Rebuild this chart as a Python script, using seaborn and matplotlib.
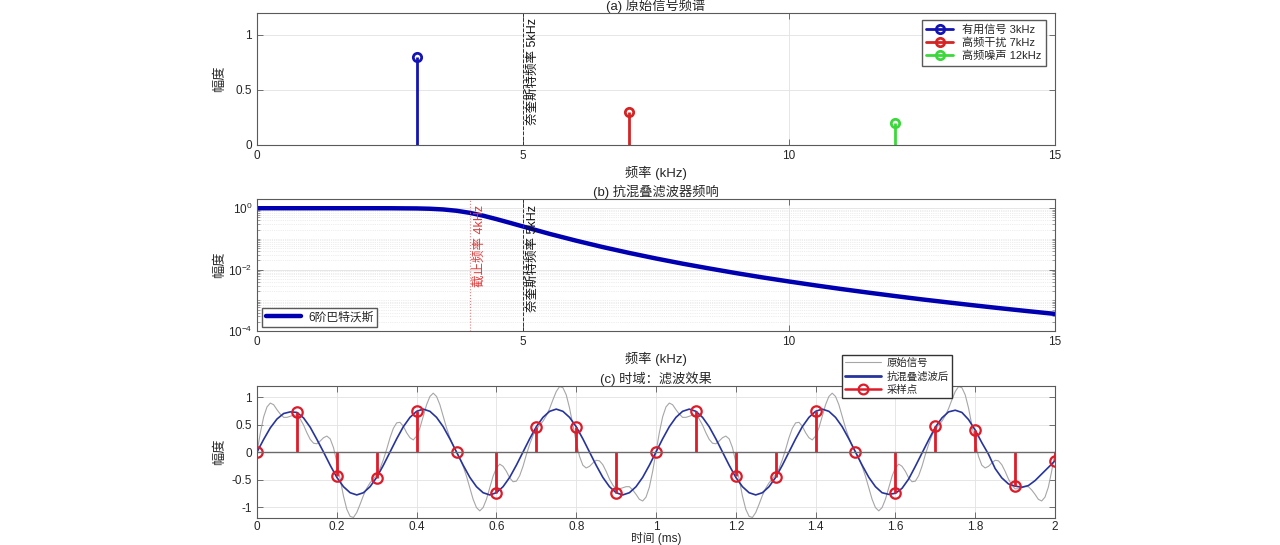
import numpy as np
import matplotlib
matplotlib.use('Agg')
import matplotlib.pyplot as plt
import seaborn as sns
from matplotlib.lines import Line2D
from matplotlib.legend_handler import HandlerLine2D
from matplotlib.ticker import FuncFormatter, LogLocator, NullFormatter

# (a) spectrum of the original signal
spec_freq = [3, 7, 12]
spec_amp = [0.8, 0.3, 0.2]
spec_labels = ['有用信号 3kHz', '高频干扰 7kHz', '高频噪声 12kHz']
spec_colors = ['#1414b4', '#d42424', '#3ad83a']

# (b) anti-aliasing filter response (6th order Butterworth)
filt_freq = [0, 0.5, 1, 1.5, 2, 2.5, 3, 3.25, 3.5, 3.75, 4, 4.25, 4.5, 4.75, 5,
             5.5, 6, 6.5, 7, 7.5, 8, 8.5, 9, 9.5, 10, 10.5, 11, 11.5, 12,
             12.5, 13, 13.5, 14, 14.5, 15]
filt_gain = [1.0, 1.0, 1.0, 1.0, 0.9999, 0.9982, 0.9845, 0.961, 0.912, 0.827,
             0.707, 0.571, 0.442, 0.336, 0.254, 0.146, 0.0875, 0.0542, 0.0348,
             0.0230, 0.0156, 0.0109, 0.00771, 0.00557, 0.00410, 0.00306,
             0.00231, 0.00177, 0.00137, 0.00107, 0.000849, 0.000677, 0.000544,
             0.000441, 0.000360]

# (c) time domain
# original signal, 241 points over 0..2 ms
t_raw = np.linspace(0, 2, 241)
raw_sig = [0.00, 0.35, 0.64, 0.82, 0.89, 0.86, 0.77, 0.69, 0.63, 0.63,
           0.65, 0.67, 0.67, 0.60, 0.49, 0.35, 0.23, 0.16, 0.15, 0.20,
           0.26, 0.29, 0.24, 0.08, -0.18, -0.49, -0.80, -1.04, -1.17, -1.19,
           -1.10, -0.95, -0.79, -0.66, -0.56, -0.49, -0.41, -0.30, -0.14, 0.05,
           0.26, 0.43, 0.53, 0.54, 0.47, 0.35, 0.26, 0.22, 0.29, 0.44,
           0.65, 0.86, 1.01, 1.07, 1.01, 0.86, 0.65, 0.44, 0.26, 0.12,
           0.00, -0.12, -0.26, -0.44, -0.65, -0.86, -1.01, -1.07, -1.01, -0.86,
           -0.65, -0.44, -0.29, -0.22, -0.26, -0.35, -0.47, -0.54, -0.53, -0.43,
           -0.26, -0.05, 0.14, 0.30, 0.41, 0.49, 0.56, 0.66, 0.79, 0.95,
           1.10, 1.19, 1.17, 1.04, 0.80, 0.49, 0.18, -0.08, -0.24, -0.29,
           -0.26, -0.20, -0.15, -0.16, -0.23, -0.35, -0.49, -0.60, -0.67, -0.67,
           -0.65, -0.63, -0.63, -0.69, -0.77, -0.86, -0.89, -0.82, -0.64, -0.35,
           0.00, 0.35, 0.64, 0.82, 0.89, 0.86, 0.77, 0.69, 0.63, 0.63,
           0.65, 0.67, 0.67, 0.60, 0.49, 0.35, 0.23, 0.16, 0.15, 0.20,
           0.26, 0.29, 0.24, 0.08, -0.18, -0.49, -0.80, -1.04, -1.17, -1.19,
           -1.10, -0.95, -0.79, -0.66, -0.56, -0.49, -0.41, -0.30, -0.14, 0.05,
           0.26, 0.43, 0.53, 0.54, 0.47, 0.35, 0.26, 0.22, 0.29, 0.44,
           0.65, 0.86, 1.01, 1.07, 1.01, 0.86, 0.65, 0.44, 0.26, 0.12,
           0.00, -0.12, -0.26, -0.44, -0.65, -0.86, -1.01, -1.07, -1.01, -0.86,
           -0.65, -0.44, -0.29, -0.22, -0.26, -0.35, -0.47, -0.54, -0.53, -0.43,
           -0.26, -0.05, 0.14, 0.30, 0.41, 0.49, 0.56, 0.66, 0.79, 0.95,
           1.10, 1.19, 1.17, 1.04, 0.80, 0.49, 0.18, -0.08, -0.24, -0.29,
           -0.26, -0.20, -0.15, -0.16, -0.23, -0.35, -0.49, -0.60, -0.67, -0.67,
           -0.65, -0.63, -0.63, -0.69, -0.77, -0.86, -0.89, -0.82, -0.64, -0.35,
           0.00]
# filtered signal, 121 points over 0..2 ms
t_filt = np.linspace(0, 2, 121)
filt_sig = [0.00, 0.23, 0.44, 0.60, 0.70, 0.73, 0.72, 0.62, 0.45, 0.23,
            0.00, -0.24, -0.46, -0.63, -0.74, -0.78, -0.74, -0.63, -0.46, -0.24,
            0.00, 0.24, 0.46, 0.63, 0.74, 0.78, 0.74, 0.63, 0.46, 0.24,
            0.00, -0.24, -0.46, -0.63, -0.74, -0.78, -0.74, -0.63, -0.46, -0.24,
            0.00, 0.24, 0.46, 0.63, 0.74, 0.78, 0.74, 0.63, 0.46, 0.24,
            0.00, -0.24, -0.46, -0.63, -0.74, -0.78, -0.74, -0.63, -0.46, -0.24,
            0.00, 0.24, 0.46, 0.63, 0.74, 0.78, 0.74, 0.63, 0.46, 0.24,
            0.00, -0.24, -0.46, -0.63, -0.74, -0.78, -0.74, -0.63, -0.46, -0.24,
            0.00, 0.24, 0.46, 0.63, 0.74, 0.78, 0.74, 0.63, 0.46, 0.24,
            0.00, -0.24, -0.46, -0.63, -0.74,
            -0.77, -0.75, -0.66, -0.49, -0.26, -0.02, 0.22, 0.45, 0.62, 0.73,
            0.76, 0.72, 0.59, 0.40, 0.17, -0.04, -0.30, -0.47, -0.58, -0.62,
            -0.64, -0.61, -0.52, -0.40, -0.28, -0.16]
sample_t = [0, 0.1, 0.2, 0.3, 0.4, 0.5, 0.6, 0.7, 0.8, 0.9, 1.0,
            1.1, 1.2, 1.3, 1.4, 1.5, 1.6, 1.7, 1.8, 1.9, 2.0]
sample_v = [0, 0.72, -0.44, -0.47, 0.75, 0, -0.74, 0.46, 0.46, -0.74, 0,
            0.74, -0.44, -0.46, 0.74, 0, -0.74, 0.47, 0.40, -0.62, -0.16]

sns.set_theme(style='white')
plt.rcParams['font.family'] = ['Liberation Sans', 'Noto Sans CJK SC']
plt.rcParams['axes.unicode_minus'] = False


class StemHandler(HandlerLine2D):
    # matlab style legend icon: line with the marker at its right end
    def get_xdata(self, legend, xdescent, ydescent, width, height, fontsize):
        xdata = np.array([-xdescent, -xdescent + width])
        return xdata, np.array([-xdescent + width * 0.88])


def style_axes(ax):
    for s in ax.spines.values():
        s.set_color('#5a5a5a')
        s.set_linewidth(0.8)
    ax.tick_params(direction='in', length=4, width=0.6, colors='#5a5a5a',
                   labelcolor='#262626', labelsize=8.5, top=True, right=True,
                   bottom=True, left=True)
    ax.grid(True, color='#e2e2e2', lw=0.6)
    ax.set_axisbelow(True)


def draw_stem(ax, x, y, color, lw, ms, mew, base_color):
    markers, stems, base = ax.stem(x, y)
    plt.setp(stems, color=color, lw=lw)
    plt.setp(markers, color=color, mfc='none', mec=color, ms=ms, mew=mew)
    plt.setp(base, color=base_color, lw=1.0)


fmt_g = FuncFormatter(lambda v, p: '%g' % v)
ylab_x = (226 - 257) / 798

fig = plt.figure(figsize=(12.8, 5.45), dpi=100)
ax1 = fig.add_axes([0.2008, 0.734, 0.6234, 0.2422])
ax2 = fig.add_axes([0.2008, 0.3927, 0.6234, 0.2422])
ax3 = fig.add_axes([0.2008, 0.0495, 0.6234, 0.2422])

# ---- (a)
style_axes(ax1)
for f, a, c in zip(spec_freq, spec_amp, spec_colors):
    draw_stem(ax1, [f], [a], c, 2.0, 6, 2.0, '#6a6a6a')
ax1.axvline(5, color='#333333', ls='--', lw=0.7)
ax1.text(5.06, 1.15, '奈奎斯特频率 5kHz', rotation=90, ha='left', va='top',
         fontsize=9, color='#111111')
ax1.set_xlim(0, 15)
ax1.set_ylim(0, 1.2)
ax1.set_xticks([0, 5, 10, 15])
ax1.set_yticks([0, 0.5, 1])
ax1.xaxis.set_major_formatter(fmt_g)
ax1.yaxis.set_major_formatter(fmt_g)
ax1.set_title('(a) 原始信号频谱', fontsize=9.5, pad=2)
ax1.set_xlabel('频率 (kHz)', fontsize=9.5, labelpad=3)
ax1.set_ylabel('幅度', fontsize=9.5)
ax1.yaxis.set_label_coords(ylab_x, 0.5)
h1 = [Line2D([], [], color=c, lw=2, marker='o', mfc='none', mec=c, mew=2, ms=6)
      for c in spec_colors]
ax1.legend(h1, spec_labels, handler_map={h: StemHandler() for h in h1},
           loc='upper left', bbox_to_anchor=(922 / 1280, 1 - 20 / 545),
           bbox_transform=fig.transFigure, borderaxespad=0, fontsize=8,
           frameon=True, fancybox=False, framealpha=1, edgecolor='#5a5a5a',
           handlelength=2.4, handletextpad=0.8, labelspacing=0.25,
           borderpad=0.4)

# ---- (b)
style_axes(ax2)
sns.lineplot(x=filt_freq, y=filt_gain, ax=ax2, color='#0000b0', lw=3.2,
             legend=False)
ax2.set_yscale('log')
ax2.set_xlim(0, 15)
ax2.set_ylim(1e-4, 2)
ax2.set_xticks([0, 5, 10, 15])
ax2.xaxis.set_major_formatter(fmt_g)
ax2.set_yticks([1e-4, 1e-2, 1])
ax2.yaxis.set_minor_locator(LogLocator(base=10, subs=np.arange(1, 10)))
ax2.yaxis.set_minor_formatter(NullFormatter())
ax2.tick_params(which='minor', direction='in', length=2, width=0.4,
                colors='#5a5a5a', right=True, left=True)
ax2.grid(True, which='minor', axis='y', color='#dedede', lw=0.5, ls=':')
ax2.axvline(4, color='#e08080', ls=':', lw=0.8)
ax2.axvline(5, color='#333333', ls='--', lw=0.7)
ax2.text(4.06, 1.25, '截止频率 4kHz', rotation=90, ha='left', va='top',
         fontsize=9, color='#e03c3c')
ax2.text(5.06, 1.25, '奈奎斯特频率 5kHz', rotation=90, ha='left', va='top',
         fontsize=9, color='#111111')
ax2.set_title('(b) 抗混叠滤波器频响', fontsize=9.5, pad=2)
ax2.set_xlabel('频率 (kHz)', fontsize=9.5, labelpad=3)
ax2.set_ylabel('幅度', fontsize=9.5)
ax2.yaxis.set_label_coords(ylab_x, 0.5)
h2 = [Line2D([], [], color='#0000b0', lw=3.2)]
ax2.legend(h2, ['6阶巴特沃斯'], loc='lower left',
           bbox_to_anchor=(262 / 1280, 1 - 327 / 545),
           bbox_transform=fig.transFigure, borderaxespad=0, fontsize=8.5,
           frameon=True, fancybox=False, framealpha=1, edgecolor='#5a5a5a',
           handlelength=3.0, handletextpad=0.6, borderpad=0.3)

# ---- (c)
style_axes(ax3)
ax3.tick_params(axis='x', pad=2)
sns.lineplot(x=t_raw, y=raw_sig, ax=ax3, color='#a6a6a6', lw=0.8, legend=False)
sns.lineplot(x=t_filt, y=filt_sig, ax=ax3, color='#26349c', lw=1.2,
             legend=False)
draw_stem(ax3, sample_t, sample_v, '#dd1c2a', 2.0, 7.5, 1.6, '#6a6a6a')
ax3.set_xlim(0, 2)
ax3.set_ylim(-1.2, 1.2)
ax3.set_xticks(np.arange(0, 2.01, 0.2))
ax3.set_yticks([-1, -0.5, 0, 0.5, 1])
ax3.xaxis.set_major_formatter(fmt_g)
ax3.yaxis.set_major_formatter(fmt_g)
ax3.set_title('(c) 时域：滤波效果', fontsize=9.5, pad=2)
ax3.set_xlabel('时间 (ms)', fontsize=8.5)
ax3.xaxis.set_label_coords(0.5, -(532 - 518) / 132)
ax3.set_ylabel('幅度', fontsize=9.5)
ax3.yaxis.set_label_coords(ylab_x, 0.5)
h3 = [Line2D([], [], color='#a6a6a6', lw=0.8),
      Line2D([], [], color='#26349c', lw=2.0),
      Line2D([], [], color='#dd1c2a', lw=1.8, marker='o', mfc='none',
             mec='#dd1c2a', mew=1.6, ms=7)]
ax3.legend(h3, ['原始信号', '抗混叠滤波后', '采样点'],
           handler_map={h3[2]: StemHandler()},
           loc='upper left', bbox_to_anchor=(842 / 1280, 1 - 355 / 545),
           bbox_transform=fig.transFigure, borderaxespad=0, fontsize=7.5,
           frameon=True, fancybox=False, framealpha=1, edgecolor='#333333',
           handlelength=3.4, handletextpad=0.6, labelspacing=0.3,
           borderpad=0.3)

fig.savefig('out.png', dpi=100)
